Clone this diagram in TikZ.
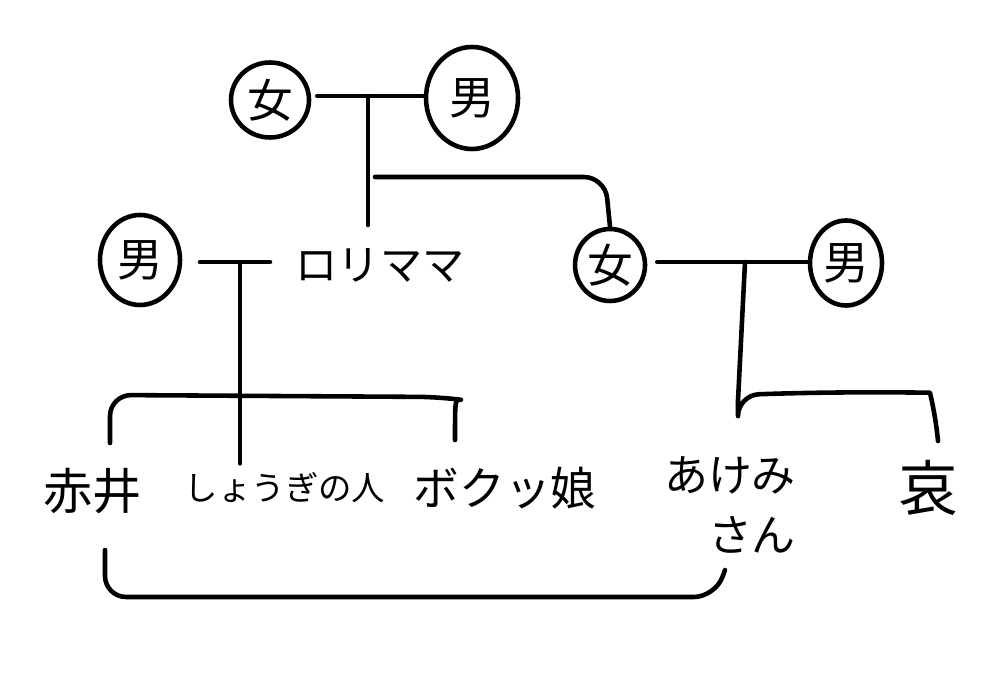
\documentclass[tikz,border=0pt]{standalone}
\usepackage{fontspec}
\setmainfont{Noto Sans CJK JP}
\usetikzlibrary{shapes.geometric}
\begin{document}
\begin{tikzpicture}[
  line width=1.3pt, line cap=round, line join=round,
  person/.style={draw, ellipse, inner sep=0pt, font=\fontsize{13}{15}\selectfont},
  lbl/.style={inner sep=2pt, font=\fontsize{13}{15}\selectfont},
  conn/.style={draw, line width=1.3pt, rounded corners=6pt}
]
\useasboundingbox (0,0) rectangle (10,6.93);
% people
\node[person, minimum width=0.78cm, minimum height=0.75cm] (f1) at (2.70,5.93) {女};
\node[person, minimum width=0.92cm, minimum height=1.02cm] (m1) at (4.72,5.95) {男};
\node[person, minimum width=0.70cm, minimum height=0.72cm] (f2) at (6.10,4.28) {女};
\node[person, minimum width=0.72cm, minimum height=0.85cm] (m2) at (8.46,4.30) {男};
\node[person, minimum width=0.80cm, minimum height=0.90cm] (m3) at (1.40,4.33) {男};
\node[lbl, font=\fontsize{12}{14}\selectfont] (lori) at (3.80,4.28) {ロリママ};
\node[lbl, font=\fontsize{14}{16}\selectfont] (akai) at (0.93,2.02) {赤井};
\node[lbl, font=\fontsize{9.5}{12}\selectfont] (shogi) at (2.85,2.05) {しょうぎの人};
\node[lbl] (boku) at (5.05,2.05) {ボクッ娘};
\node[lbl, align=center, font=\fontsize{12.5}{17}\selectfont] (akemi) at (7.30,1.88) {あけみ\\\hspace{1em}さん};
\node[lbl, font=\fontsize{17}{19}\selectfont] (ai) at (9.28,2.05) {哀};
% junctions
\coordinate (j1) at (3.68,5.97);
\coordinate (j1b) at (3.68,4.68);
\coordinate (j2) at (3.75,5.16);
\coordinate (j2b) at (6.05,5.16);
\coordinate (j3) at (7.45,4.31);
\coordinate (j3b) at (7.38,2.93);
\coordinate (j4) at (2.40,4.31);
\coordinate (l4a) at (2.00,4.31);
\coordinate (l4b) at (2.70,4.31);
% top couple
\draw (f1.east) ++(0.06,0.04) coordinate (p1) -- (m1.west |- p1);
\draw (j1) -- (j1b);
\draw[conn] (j2) -- (j2b) -- (f2.north);
% middle couples
\draw (l4a) -- (l4b);
\draw (j4) -- (j4 |- shogi.north);
\draw (f2.east) ++(0.10,0.03) coordinate (p2) -- (m2.west |- p2);
\draw (j3) -- (j3b);
% children brackets
\draw[conn] (1.10,2.50) -- (1.10,2.98) -- (4.40,2.96) .. controls (4.55,2.94) .. (4.55,2.53);
\draw[conn] (j3b) -- (j3b |- 0,2.98) .. controls (8.5,3.02) and (9.3,3.0) .. (9.35,2.80) -- (9.38,2.52);
% bottom connection
\draw[conn] (1.05,1.43) -- (1.05,0.96) -- (7.15,0.96) -- (7.25,1.23);
\end{tikzpicture}
\end{document}
